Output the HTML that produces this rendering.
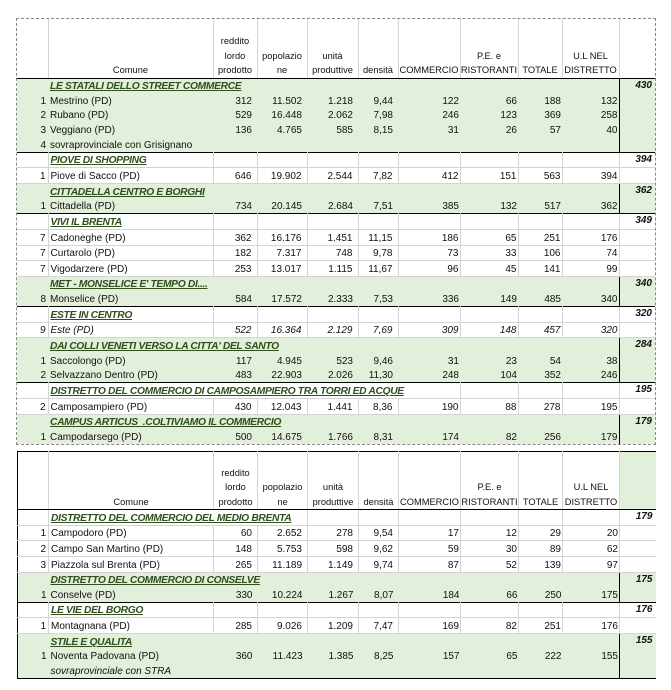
<!DOCTYPE html>
<html><head><meta charset="utf-8">
<style>
html,body{margin:0;padding:0;background:#fff;width:671px;height:690px;overflow:hidden;position:relative}
table{position:absolute;left:17px;border-collapse:collapse;table-layout:fixed;font-family:"Liberation Sans",sans-serif;font-size:10px;color:#111}
td,th{padding:0;height:14.65px;line-height:13px;white-space:nowrap;overflow:visible;text-align:right;vertical-align:bottom}
th{font-weight:normal;text-align:center;font-size:9.3px;line-height:14.5px;border-right:1px solid #d4d4d4;border-bottom:1px solid #000;vertical-align:bottom;padding-bottom:0}
tr.g{background:#e2efda}
tr.w td{border-right:1px solid #d4d4d4;border-bottom:1px solid #d4d4d4}
tr.s td{border-top:1px solid #000}
td.n{padding-right:2px}
td.c{text-align:left;padding-left:2px}
td.a{padding-right:5px}
td.b{padding-right:1px}
td.t{text-align:left;padding-left:2px;font-weight:bold;font-style:italic;text-decoration:underline;color:#2f4f1c;font-size:10.3px;letter-spacing:-0.35px}
td.r,th.r{border-left:1px solid #000 !important;border-right:none !important}
td.r{font-weight:bold;font-style:italic;padding-right:3px;vertical-align:top;line-height:13px}
tr.w td.r{border-right:none}
.it td{font-style:italic}
#t1{top:19px;outline:1px dashed #888}
#t2{top:451px;border-left:1px solid #000;border-bottom:1px solid #000}
#t2 tr.h th{border-top:1px solid #000}
#t2 th.r{background:#e2efda;border-top:none}
</style></head><body>

<table id="t1">
<colgroup><col style="width:31px"><col style="width:165px"><col style="width:44px"><col style="width:50px"><col style="width:51px"><col style="width:40px"><col style="width:62px"><col style="width:58px"><col style="width:44px"><col style="width:57px"><col style="width:36px"></colgroup>
<tr class="h" style="height:59px"><th style="height:58px"></th><th>Comune</th><th>reddito<br>lordo<br>prodotto</th><th>popolazio<br>ne</th><th>unità<br>produttive</th><th>densità</th><th>COMMERCIO</th><th>P.E. e<br>RISTORANTI</th><th>TOTALE</th><th>U.L NEL<br>DISTRETTO</th><th class="r"></th></tr>

<tr class="g"><td></td><td class="t" colspan="9">LE STATALI DELLO STREET COMMERCE</td><td class="r">430</td></tr>
<tr class="g"><td class="n">1</td><td class="c">Mestrino (PD)</td><td class="a">312</td><td class="a">11.502</td><td class="a">1.218</td><td class="a">9,44</td><td class="b">122</td><td class="b">66</td><td class="b">188</td><td class="b">132</td><td class="r"></td></tr>
<tr class="g"><td class="n">2</td><td class="c">Rubano (PD)</td><td class="a">529</td><td class="a">16.448</td><td class="a">2.062</td><td class="a">7,98</td><td class="b">246</td><td class="b">123</td><td class="b">369</td><td class="b">258</td><td class="r"></td></tr>
<tr class="g"><td class="n">3</td><td class="c">Veggiano (PD)</td><td class="a">136</td><td class="a">4.765</td><td class="a">585</td><td class="a">8,15</td><td class="b">31</td><td class="b">26</td><td class="b">57</td><td class="b">40</td><td class="r"></td></tr>
<tr class="g"><td class="n">4</td><td class="c" colspan="9">sovraprovinciale con Grisignano</td><td class="r"></td></tr>

<tr class="w s"><td></td><td class="t">PIOVE DI SHOPPING</td><td></td><td></td><td></td><td></td><td></td><td></td><td></td><td></td><td class="r">394</td></tr>
<tr class="w"><td class="n">1</td><td class="c">Piove di Sacco (PD)</td><td class="a">646</td><td class="a">19.902</td><td class="a">2.544</td><td class="a">7,82</td><td class="b">412</td><td class="b">151</td><td class="b">563</td><td class="b">394</td><td class="r"></td></tr>

<tr class="g s"><td></td><td class="t" colspan="9">CITTADELLA CENTRO E BORGHI</td><td class="r">362</td></tr>
<tr class="g"><td class="n">1</td><td class="c">Cittadella (PD)</td><td class="a">734</td><td class="a">20.145</td><td class="a">2.684</td><td class="a">7,51</td><td class="b">385</td><td class="b">132</td><td class="b">517</td><td class="b">362</td><td class="r"></td></tr>

<tr class="w s"><td></td><td class="t">VIVI IL BRENTA</td><td></td><td></td><td></td><td></td><td></td><td></td><td></td><td></td><td class="r">349</td></tr>
<tr class="w"><td class="n">7</td><td class="c">Cadoneghe (PD)</td><td class="a">362</td><td class="a">16.176</td><td class="a">1.451</td><td class="a">11,15</td><td class="b">186</td><td class="b">65</td><td class="b">251</td><td class="b">176</td><td class="r"></td></tr>
<tr class="w"><td class="n">7</td><td class="c">Curtarolo (PD)</td><td class="a">182</td><td class="a">7.317</td><td class="a">748</td><td class="a">9,78</td><td class="b">73</td><td class="b">33</td><td class="b">106</td><td class="b">74</td><td class="r"></td></tr>
<tr class="w"><td class="n">7</td><td class="c">Vigodarzere (PD)</td><td class="a">253</td><td class="a">13.017</td><td class="a">1.115</td><td class="a">11,67</td><td class="b">96</td><td class="b">45</td><td class="b">141</td><td class="b">99</td><td class="r"></td></tr>

<tr class="g s"><td></td><td class="t" colspan="9">MET - MONSELICE E' TEMPO DI....</td><td class="r">340</td></tr>
<tr class="g"><td class="n">8</td><td class="c">Monselice (PD)</td><td class="a">584</td><td class="a">17.572</td><td class="a">2.333</td><td class="a">7,53</td><td class="b">336</td><td class="b">149</td><td class="b">485</td><td class="b">340</td><td class="r"></td></tr>

<tr class="w s"><td></td><td class="t">ESTE IN CENTRO</td><td></td><td></td><td></td><td></td><td></td><td></td><td></td><td></td><td class="r">320</td></tr>
<tr class="w it"><td class="n">9</td><td class="c">Este (PD)</td><td class="a">522</td><td class="a">16.364</td><td class="a">2.129</td><td class="a">7,69</td><td class="b">309</td><td class="b">148</td><td class="b">457</td><td class="b">320</td><td class="r"></td></tr>

<tr class="g s"><td></td><td class="t" colspan="9">DAI COLLI VENETI VERSO LA CITTA' DEL SANTO</td><td class="r">284</td></tr>
<tr class="g"><td class="n">1</td><td class="c">Saccolongo (PD)</td><td class="a">117</td><td class="a">4.945</td><td class="a">523</td><td class="a">9,46</td><td class="b">31</td><td class="b">23</td><td class="b">54</td><td class="b">38</td><td class="r"></td></tr>
<tr class="g"><td class="n">2</td><td class="c">Selvazzano Dentro (PD)</td><td class="a">483</td><td class="a">22.903</td><td class="a">2.026</td><td class="a">11,30</td><td class="b">248</td><td class="b">104</td><td class="b">352</td><td class="b">246</td><td class="r"></td></tr>

<tr class="w s"><td></td><td class="t" colspan="6">DISTRETTO DEL COMMERCIO DI CAMPOSAMPIERO TRA TORRI ED ACQUE</td><td></td><td></td><td></td><td class="r">195</td></tr>
<tr class="w"><td class="n">2</td><td class="c">Camposampiero (PD)</td><td class="a">430</td><td class="a">12.043</td><td class="a">1.441</td><td class="a">8,36</td><td class="b">190</td><td class="b">88</td><td class="b">278</td><td class="b">195</td><td class="r"></td></tr>

<tr class="g s"><td></td><td class="t" colspan="9">CAMPUS ARTICUS &nbsp;.COLTIVIAMO IL COMMERCIO</td><td class="r">179</td></tr>
<tr class="g"><td class="n">1</td><td class="c">Campodarsego (PD)</td><td class="a">500</td><td class="a">14.675</td><td class="a">1.766</td><td class="a">8,31</td><td class="b">174</td><td class="b">82</td><td class="b">256</td><td class="b">179</td><td class="r"></td></tr>
</table>

<table id="t2">
<colgroup><col style="width:31px"><col style="width:165px"><col style="width:44px"><col style="width:50px"><col style="width:51px"><col style="width:40px"><col style="width:62px"><col style="width:58px"><col style="width:44px"><col style="width:57px"><col style="width:36px"></colgroup>
<tr class="h" style="height:58px"><th style="height:57px"></th><th>Comune</th><th>reddito<br>lordo<br>prodotto</th><th>popolazio<br>ne</th><th>unità<br>produttive</th><th>densità</th><th>COMMERCIO</th><th>P.E. e<br>RISTORANTI</th><th>TOTALE</th><th>U.L NEL<br>DISTRETTO</th><th class="r"></th></tr>

<tr class="w"><td></td><td class="t" colspan="3">DISTRETTO DEL COMMERCIO DEL MEDIO BRENTA</td><td></td><td></td><td></td><td></td><td></td><td></td><td class="r">179</td></tr>
<tr class="w"><td class="n">1</td><td class="c">Campodoro (PD)</td><td class="a">60</td><td class="a">2.652</td><td class="a">278</td><td class="a">9,54</td><td class="b">17</td><td class="b">12</td><td class="b">29</td><td class="b">20</td><td class="r"></td></tr>
<tr class="w"><td class="n">2</td><td class="c">Campo San Martino (PD)</td><td class="a">148</td><td class="a">5.753</td><td class="a">598</td><td class="a">9,62</td><td class="b">59</td><td class="b">30</td><td class="b">89</td><td class="b">62</td><td class="r"></td></tr>
<tr class="w"><td class="n">3</td><td class="c">Piazzola sul Brenta (PD)</td><td class="a">265</td><td class="a">11.189</td><td class="a">1.149</td><td class="a">9,74</td><td class="b">87</td><td class="b">52</td><td class="b">139</td><td class="b">97</td><td class="r"></td></tr>

<tr class="g s"><td></td><td class="t" colspan="9">DISTRETTO DEL COMMERCIO DI CONSELVE</td><td class="r">175</td></tr>
<tr class="g"><td class="n">1</td><td class="c">Conselve (PD)</td><td class="a">330</td><td class="a">10.224</td><td class="a">1.267</td><td class="a">8,07</td><td class="b">184</td><td class="b">66</td><td class="b">250</td><td class="b">175</td><td class="r"></td></tr>

<tr class="w s"><td></td><td class="t">LE VIE DEL BORGO</td><td></td><td></td><td></td><td></td><td></td><td></td><td></td><td></td><td class="r">176</td></tr>
<tr class="w"><td class="n">1</td><td class="c">Montagnana (PD)</td><td class="a">285</td><td class="a">9.026</td><td class="a">1.209</td><td class="a">7,47</td><td class="b">169</td><td class="b">82</td><td class="b">251</td><td class="b">176</td><td class="r"></td></tr>

<tr class="g s"><td></td><td class="t" colspan="9">STILE E QUALITA</td><td class="r">155</td></tr>
<tr class="g"><td class="n">1</td><td class="c">Noventa Padovana (PD)</td><td class="a">360</td><td class="a">11.423</td><td class="a">1.385</td><td class="a">8,25</td><td class="b">157</td><td class="b">65</td><td class="b">222</td><td class="b">155</td><td class="r"></td></tr>
<tr class="g"><td></td><td class="c" colspan="9" style="font-style:italic">sovraprovinciale con STRA</td><td class="r"></td></tr>
</table>
</body></html>
